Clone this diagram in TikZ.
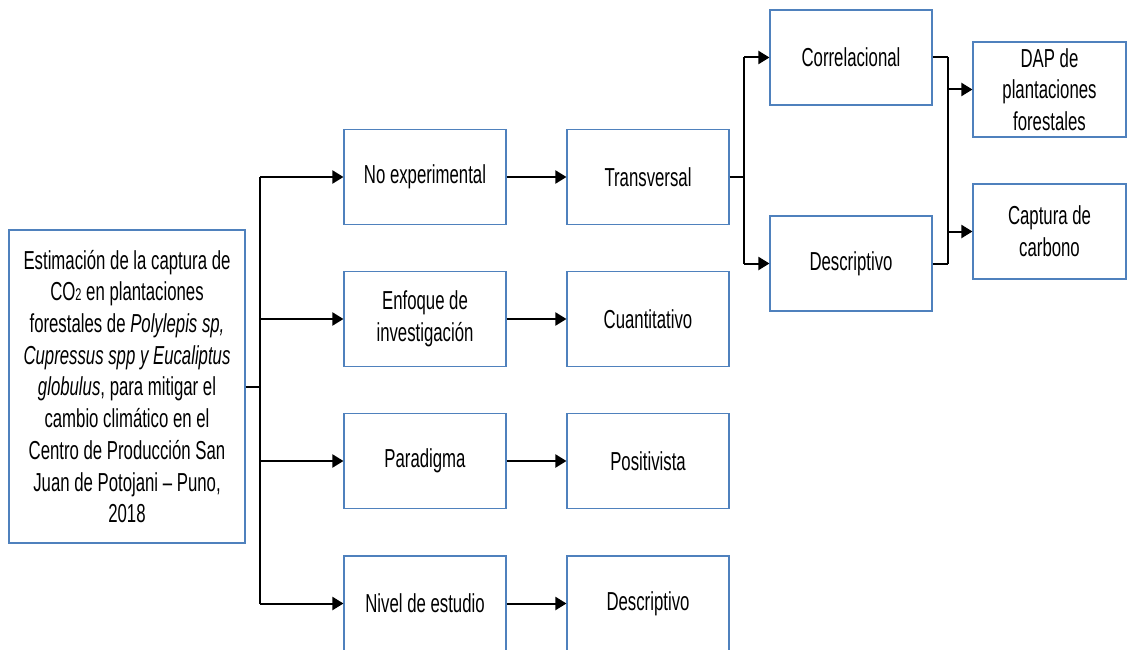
\documentclass[tikz,border=0pt]{standalone}
\usepackage{fontspec}
\setmainfont[FakeStretch=0.645]{Liberation Sans}
\usetikzlibrary{arrows.meta}
\definecolor{bx}{RGB}{79,129,189}
\begin{document}
\begin{tikzpicture}[x=1pt,y=-1pt,
 box/.style={draw=bx,line width=1.1pt,inner sep=0pt,minimum width=162pt,minimum height=95pt,align=center,font=\fontsize{26}{31.7}\selectfont},
 ln/.style={line width=2pt},
 arr/.style={ln,-{Triangle[length=11pt,width=13pt]}}]
\useasboundingbox (0,0) rectangle (1127,650);
\node[box,minimum width=236pt,minimum height=313pt] (main) at (127,386.5) {Estimación de la captura de\\
CO{\fontsize{17}{17}\selectfont 2} en plantaciones\\
forestales de \textit{Polylepis sp,}\\
\textit{Cupressus spp y Eucaliptus}\\
\textit{globulus}, para mitigar el\\
cambio climático en el\\
Centro de Producción San\\
Juan de Potojani – Puno,\\
2018};
\node[box] (ne) at (425,177) {No experimental};
\node[box] (en) at (425,319) {Enfoque de\\investigación};
\node[box] (pa) at (425,461) {Paradigma};
\node[box] (nv) at (425,603.5) {Nivel de estudio};
\node[box] (tr) at (648,177) {Transversal};
\node[box] (cu) at (648,319) {Cuantitativo};
\node[box] (po) at (648,461) {Positivista};
\node[box] (de) at (648,603.5) {Descriptivo};
\node[box] (co) at (851,57.5) {Correlacional};
\node[box] (ds) at (851,263.5) {Descriptivo};
\node[box,minimum width=153pt] (dap) at (1049.5,89.5) {DAP de\\plantaciones\\forestales};
\node[box,minimum width=153pt] (cap) at (1049.5,231.5) {Captura de\\carbono};
\coordinate (j1) at (260,387);
\coordinate (j2) at (744,177);
\coordinate (j3) at (948,58);
\draw[ln] (main.east |- j1) -- (j1);
\draw[ln] (j1 |- ne.west) -- (j1 |- nv.west);
\foreach \n in {ne,en,pa,nv} \draw[arr] (j1 |- \n.west) -- (\n.west);
\draw[arr] (ne) -- (tr);
\draw[arr] (en) -- (cu);
\draw[arr] (pa) -- (po);
\draw[arr] (nv) -- (de);
\draw[ln] (tr.east) -- (j2);
\draw[ln] (j2 |- co.west) -- (j2 |- ds.west);
\draw[arr] (j2 |- co.west) -- (co.west);
\draw[arr] (j2 |- ds.west) -- (ds.west);
\draw[ln] (co.east) -- (j3 |- co.east);
\draw[ln] (ds.east) -- (j3 |- ds.east);
\draw[ln] (j3 |- co.east) -- (j3 |- ds.east);
\draw[arr] (j3 |- dap.west) -- (dap.west);
\draw[arr] (j3 |- cap.west) -- (cap.west);
\end{tikzpicture}
\end{document}
